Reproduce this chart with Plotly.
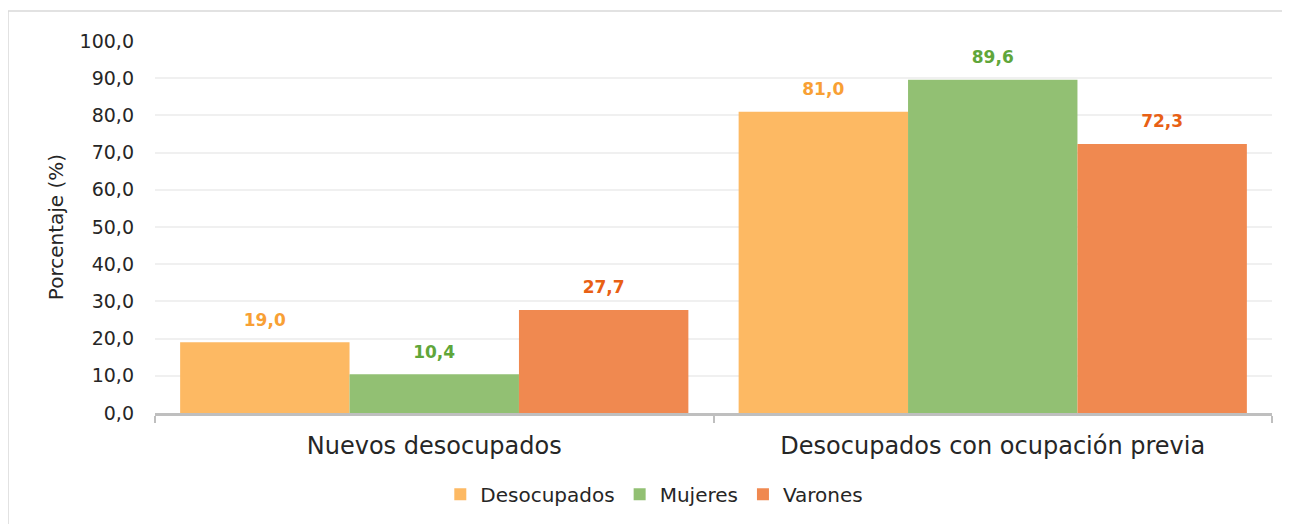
import plotly.graph_objects as go

categories = ['Nuevos desocupados', 'Desocupados con ocupación previa']
series_names = ['Desocupados', 'Mujeres', 'Varones']
desocupados = [19.0, 81.0]
mujeres = [10.4, 89.6]
varones = [27.7, 72.3]

bar_colors = ['rgb(253,185,99)', 'rgb(146,192,115)', 'rgb(240,137,80)']
label_colors = ['rgb(248,160,52)', 'rgb(96,166,58)', 'rgb(232,96,20)']
font_family = 'DejaVu Sans'

fig = go.Figure()
for name, vals, col, lcol in zip(series_names, [desocupados, mujeres, varones], bar_colors, label_colors):
    fig.add_trace(go.Bar(
        name=name,
        x=categories,
        y=vals,
        marker=dict(color=col, line=dict(width=0)),
        # small second line lifts the label a bit above the bar
        texttemplate='<span style="font-size:17px"><b>%{y:.1f}</b></span><br> ',
        textposition='outside',
        textfont=dict(color=lcol, size=9, family=font_family),
        cliponaxis=False,
    ))

# outer chart frame (light grey)
frame = dict(type='line', xref='paper', yref='paper', line=dict(color='#D9D9D9', width=1.5))
fig.add_shape(frame, x0=-0.1316, x1=1.05, y0=1.0804, y1=1.0804)
fig.add_shape(frame, x0=-0.1316, x1=-0.1316, y0=1.0804, y1=-0.35)

fig.update_layout(
    width=1282,
    height=516,
    margin=dict(l=147, r=18, t=33, b=110),
    paper_bgcolor='white',
    plot_bgcolor='white',
    separators=',.',
    barmode='group',
    bargap=0.09,
    bargroupgap=0,
    font=dict(family=font_family, color='#262626'),
    showlegend=True,
    legend=dict(
        orientation='h',
        x=0.447, xanchor='center',
        y=-0.215, yanchor='middle',
        font=dict(size=20, color='#262626'),
        itemwidth=30,
        traceorder='normal',
    ),
    xaxis=dict(
        type='category',
        showline=True,
        linecolor='#BFBFBF',
        linewidth=3,
        ticks='outside',
        tickson='boundaries',
        ticklen=7,
        tickwidth=2,
        tickcolor='#BFBFBF',
        ticklabelstandoff=9,
        tickfont=dict(size=24, color='#262626'),
        showgrid=False,
    ),
    yaxis=dict(
        range=[0, 100],
        dtick=10,
        tickformat='.1f',
        showgrid=True,
        gridcolor='#F0F0F0',
        gridwidth=2,
        zeroline=False,
        showline=False,
        ticks='',
        ticklabelstandoff=20,
        tickfont=dict(size=19, color='#262626'),
        title=dict(text='Porcentaje (%)', font=dict(size=20, color='#262626'), standoff=10),
    ),
)

fig.write_html('out.html')
